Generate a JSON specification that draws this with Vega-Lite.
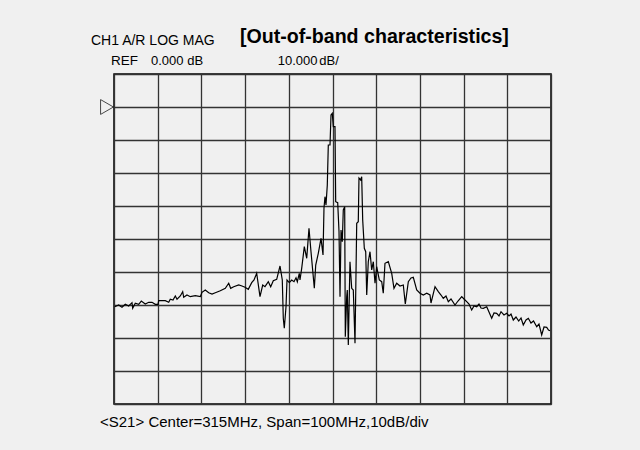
{
  "$schema": "https://vega.github.io/schema/vega-lite/v6.json",
  "width": 437,
  "height": 330,
  "autosize": {"type": "none"},
  "padding": {"left": 114, "top": 74, "right": 89, "bottom": 46},
  "background": "#f0f0f0",
  "config": {
    "view": {"stroke": "#000000", "strokeWidth": 1.5, "fill": null},
    "font": "Liberation Sans"
  },
  "layer": [
    {
      "data": {"values": [
        {"f":265.16,"db":-60.52},{"f":266.08,"db":-60.0},{"f":266.83,"db":-60.70},{"f":267.59,"db":-59.79},{"f":268.36,"db":-60.30},{"f":269.12,"db":-59.30},{"f":269.28,"db":-61.0},{"f":269.87,"db":-59.48},{"f":270.65,"db":-59.79},{"f":271.25,"db":-58.79},{"f":272.16,"db":-59.70},{"f":272.94,"db":-59.18},{"f":273.70,"db":-59.18},{"f":274.45,"db":-59.79},{"f":275.07,"db":-59.79},{"f":275.23,"db":-58.70},{"f":276.74,"db":-58.70},{"f":277.52,"db":-59.18},{"f":277.88,"db":-58.27},{"f":278.50,"db":-58.48},{"f":279.03,"db":-57.27},{"f":279.42,"db":-58.27},{"f":280.17,"db":-57.27},{"f":280.72,"db":-55.97},{"f":280.95,"db":-57.67},{"f":281.70,"db":-56.97},{"f":282.46,"db":-57.48},{"f":283.60,"db":-57.18},{"f":284.75,"db":-57.48},{"f":285.14,"db":-56.15},{"f":285.89,"db":-55.45},{"f":286.67,"db":-56.27},{"f":287.43,"db":-56.67},{"f":288.18,"db":-56.27},{"f":289.32,"db":-55.67},{"f":290.47,"db":-54.94},{"f":291.25,"db":-53.42},{"f":291.70,"db":-54.94},{"f":292.39,"db":-54.45},{"f":293.54,"db":-53.94},{"f":294.29,"db":-54.24},{"f":294.98,"db":-54.64},{"f":295.73,"db":-55.24},{"f":296.51,"db":-53.24},{"f":297.04,"db":-52.42},{"f":297.65,"db":-50.39},{"f":298.41,"db":-57.48},{"f":299.03,"db":-53.94},{"f":299.55,"db":-54.45},{"f":300.31,"db":-52.94},{"f":300.86,"db":-54.45},{"f":301.45,"db":-52.64},{"f":302.23,"db":-52.21},{"f":302.99,"db":-48.18},{"f":303.51,"db":-52.42},{"f":303.74,"db":-64.03},{"f":303.97,"db":-67.06},{"f":304.36,"db":-60.52},{"f":304.59,"db":-52.42},{"f":305.11,"db":-53.24},{"f":305.66,"db":-52.42},{"f":306.19,"db":-52.94},{"f":306.65,"db":-51.73},{"f":306.95,"db":-52.94},{"f":307.40,"db":-50.39},{"f":307.56,"db":-52.42},{"f":307.95,"db":-48.88},{"f":308.55,"db":-42.33},{"f":309.10,"db":-45.85},{"f":309.62,"db":-36.76},{"f":310.08,"db":-43.85},{"f":310.84,"db":-54.94},{"f":311.16,"db":-47.88},{"f":311.75,"db":-44.33},{"f":312.37,"db":-39.79},{"f":312.83,"db":-44.85},{"f":313.05,"db":-30.70},{"f":313.28,"db":-27.18},{"f":313.51,"db":-29.70},{"f":313.81,"db":-23.64},{"f":314.04,"db":-11.52},{"f":314.43,"db":-11.52},{"f":314.66,"db":-2.42},{"f":314.95,"db":-1.91},{"f":315.18,"db":-5.97},{"f":315.57,"db":-5.97},{"f":315.73,"db":-28.70},{"f":316.19,"db":-29.0},{"f":316.49,"db":-37.79},{"f":316.72,"db":-57.48},{"f":316.95,"db":-37.27},{"f":317.24,"db":-40.82},{"f":317.47,"db":-31.21},{"f":317.79,"db":-30.21},{"f":317.93,"db":-69.61},{"f":318.25,"db":-57.48},{"f":318.39,"db":-55.45},{"f":318.62,"db":-72.12},{"f":319.00,"db":-46.88},{"f":319.39,"db":-54.94},{"f":319.76,"db":-55.45},{"f":320.15,"db":-71.61},{"f":320.54,"db":-35.24},{"f":320.90,"db":-34.76},{"f":321.06,"db":-21.52},{"f":321.45,"db":-22.12},{"f":321.68,"db":-21.12},{"f":321.91,"db":-34.24},{"f":322.28,"db":-42.82},{"f":322.60,"db":-43.85},{"f":322.83,"db":-56.97},{"f":323.19,"db":-46.88},{"f":323.58,"db":-43.85},{"f":323.97,"db":-49.39},{"f":324.34,"db":-46.88},{"f":324.73,"db":-53.42},{"f":325.11,"db":-48.39},{"f":325.71,"db":-52.42},{"f":326.26,"db":-52.94},{"f":326.62,"db":-56.45},{"f":327.01,"db":-47.36},{"f":327.77,"db":-46.88},{"f":328.55,"db":-50.39},{"f":329.07,"db":-54.94},{"f":329.69,"db":-53.42},{"f":330.45,"db":-54.24},{"f":331.20,"db":-53.94},{"f":331.66,"db":-59.70},{"f":332.35,"db":-52.94},{"f":332.96,"db":-51.82},{"f":333.49,"db":-51.61},{"f":334.27,"db":-55.45},{"f":335.02,"db":-56.45},{"f":335.78,"db":-56.97},{"f":336.56,"db":-56.45},{"f":337.31,"db":-56.97},{"f":337.54,"db":-59.39},{"f":338.46,"db":-54.45},{"f":339.21,"db":-55.97},{"f":339.83,"db":-56.97},{"f":340.35,"db":-57.97},{"f":340.97,"db":-57.27},{"f":341.50,"db":-59.0},{"f":342.12,"db":-58.18},{"f":343.03,"db":-60.0},{"f":343.72,"db":-58.79},{"f":344.57,"db":-57.48},{"f":345.09,"db":-58.18},{"f":345.71,"db":-59.0},{"f":346.24,"db":-59.70},{"f":346.85,"db":-61.52},{"f":347.38,"db":-60.30},{"f":348.0,"db":-60.52},{"f":348.52,"db":-59.70},{"f":348.98,"db":-60.91},{"f":349.51,"db":-61.0},{"f":350.29,"db":-60.52},{"f":350.81,"db":-62.12},{"f":351.43,"db":-64.03},{"f":351.96,"db":-62.42},{"f":352.57,"db":-62.52},{"f":353.10,"db":-63.33},{"f":353.56,"db":-62.03},{"f":354.24,"db":-63.03},{"f":354.86,"db":-62.52},{"f":355.39,"db":-63.33},{"f":355.85,"db":-62.73},{"f":356.37,"db":-64.55},{"f":356.99,"db":-63.64},{"f":357.61,"db":-64.85},{"f":358.14,"db":-63.94},{"f":358.66,"db":-66.06},{"f":359.28,"db":-64.55},{"f":359.81,"db":-64.03},{"f":360.42,"db":-65.45},{"f":361.0,"db":-64.85},{"f":361.73,"db":-66.58},{"f":362.25,"db":-65.76},{"f":362.87,"db":-69.09},{"f":363.40,"db":-66.67},{"f":364.02,"db":-66.76},{"f":364.43,"db":-67.58},{"f":364.77,"db":-67.79}
      ]},
      "mark": {"type": "line", "color": "#000000", "strokeWidth": 1.2, "clip": true},
      "encoding": {
        "x": {"field": "f", "type": "quantitative",
          "scale": {"domain": [265, 365], "nice": false, "zero": false},
          "axis": {"values": [265,275,285,295,305,315,325,335,345,355,365], "tickCount": 20, "grid": true, "gridColor": "#333333", "gridWidth": 1.3, "gridOpacity": 1, "labels": false, "ticks": false, "domain": false, "title": null}},
        "y": {"field": "db", "type": "quantitative",
          "scale": {"domain": [-90, 10], "nice": false, "zero": false},
          "axis": {"values": [-90,-80,-70,-60,-50,-40,-30,-20,-10,0,10], "tickCount": 20, "grid": true, "gridColor": "#333333", "gridWidth": 1.3, "gridOpacity": 1, "labels": false, "ticks": false, "domain": false, "title": null}}
      }
    },
    {
      "data": {"values": [{"marker": "ref"}]},
      "mark": {"type": "point", "shape": "triangle-right", "filled": false, "stroke": "#000000", "strokeWidth": 1, "size": 220, "xOffset": -7},
      "encoding": {"x": {"datum": 265}, "y": {"datum": 0}}
    },
    {
      "data": {"values": [{"label": "CH1 A/R LOG MAG"}]},
      "mark": {"type": "text", "align": "left", "baseline": "alphabetic", "fontSize": 14, "color": "#000000"},
      "encoding": {"x": {"datum": 259.74}, "y": {"datum": 18.79}, "text": {"field": "label"}}
    },
    {
      "data": {"values": [{"label": "REF"}]},
      "mark": {"type": "text", "align": "left", "baseline": "alphabetic", "fontSize": 13.5, "color": "#000000"},
      "encoding": {"x": {"datum": 264.31}, "y": {"datum": 12.73}, "text": {"field": "label"}}
    },
    {
      "data": {"values": [{"label": "0.000 dB"}]},
      "mark": {"type": "text", "align": "left", "baseline": "alphabetic", "fontSize": 13, "color": "#000000"},
      "encoding": {"x": {"datum": 273.47}, "y": {"datum": 12.73}, "text": {"field": "label"}}
    },
    {
      "data": {"values": [{"label": "10.000"}]},
      "mark": {"type": "text", "align": "left", "baseline": "alphabetic", "fontSize": 13, "color": "#000000"},
      "encoding": {"x": {"datum": 302.46}, "y": {"datum": 12.73}, "text": {"field": "label"}}
    },
    {
      "data": {"values": [{"label": "dB/"}]},
      "mark": {"type": "text", "align": "left", "baseline": "alphabetic", "fontSize": 13, "color": "#000000"},
      "encoding": {"x": {"datum": 311.98}, "y": {"datum": 12.73}, "text": {"field": "label"}}
    },
    {
      "data": {"values": [{"label": "[Out-of-band characteristics]"}]},
      "mark": {"type": "text", "align": "left", "baseline": "alphabetic", "fontSize": 19.6, "fontWeight": "bold", "color": "#000000"},
      "encoding": {"x": {"datum": 293.83}, "y": {"datum": 19.39}, "text": {"field": "label"}}
    },
    {
      "data": {"values": [{"label": "<S21> Center=315MHz, Span=100MHz,10dB/div"}]},
      "mark": {"type": "text", "align": "left", "baseline": "alphabetic", "fontSize": 15, "color": "#000000"},
      "encoding": {"x": {"datum": 261.8}, "y": {"datum": -96.97}, "text": {"field": "label"}}
    }
  ]
}
